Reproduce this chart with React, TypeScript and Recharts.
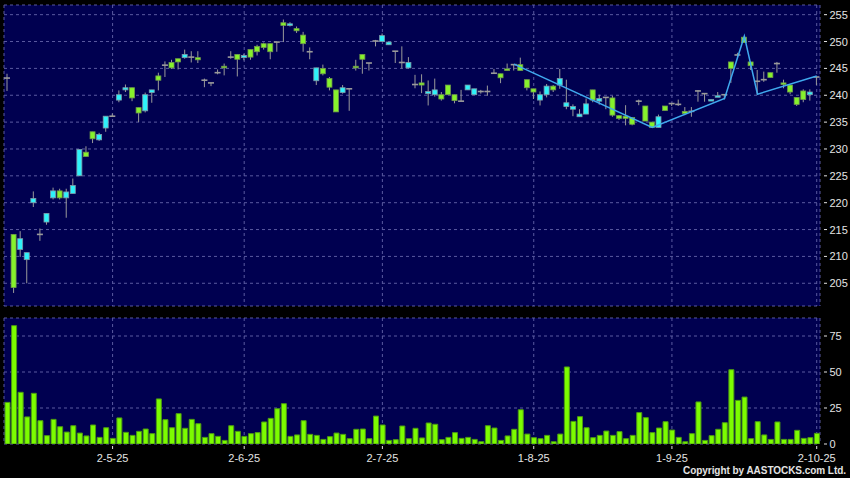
import React from "react";
import { ComposedChart, Bar, Line, XAxis, YAxis, CartesianGrid } from "recharts";

// daily prices (index 0 = first session shown)
const opens = [
  243.2, 204.2, 213.3, 210.7, 220.8, 214.1, 218.0, 222.2, 220.9, 222.0,
  223.2, 229.9, 228.6, 231.9, 232.7, 236.1, 236.1, 240.1, 241.4, 239.5,
  236.7, 240.1, 241.0, 242.8, 245.6, 245.1, 246.2, 247.6, 247.1, 246.6,
  242.8, 242.3, 244.2, 245.1, 247.1, 246.7, 247.4, 247.1, 248.1, 248.9,
  248.1, 249.9, 253.0, 253.3, 252.0, 249.6, 248.1, 245.1, 244.0, 241.5,
  236.9, 241.4, 241.2, 245.1, 246.7, 246.0, 250.1, 251.1, 249.9, 248.2,
  246.1, 246.1, 242.0, 241.9, 240.7, 241.0, 239.3, 240.1, 239.0, 238.9,
  241.9, 241.2, 240.7, 240.7, 244.1, 243.25, 244.6, 245.7, 244.6, 241.4,
  240.6, 240.1, 241.7, 241.0, 243.1, 238.6, 237.9, 236.5, 238.4, 239.1,
  239.4, 239.6, 236.3, 235.7, 235.7, 234.6, 238.9, 235.2, 234.0, 236.0,
  237.15, 238.45, 238.3, 236.6, 237.0, 240.8, 240.3, 239.2, 239.9, 240.1,
  245.0, 247.5, 249.8, 245.5, 242.6, 242.9, 243.3, 245.9, 242.0, 240.6,
  238.3, 239.2, 240.6, 243.4,
];
const highs = [
  244.0, 214.1, 214.7, 210.7, 222.1, 215.2, 218.0, 222.8, 222.6, 222.6,
  224.5, 229.9, 230.5, 233.2, 233.0, 236.1, 236.6, 240.9, 242.0, 241.4,
  237.7, 240.5, 241.0, 244.2, 246.3, 246.6, 246.8, 248.5, 248.2, 248.2,
  243.1, 242.3, 244.8, 245.9, 248.2, 247.6, 247.7, 248.5, 249.4, 249.8,
  249.6, 249.9, 254.1, 253.6, 252.8, 251.8, 248.9, 245.1, 245.7, 243.4,
  241.0, 241.9, 241.2, 246.6, 247.6, 246.0, 250.3, 251.5, 249.9, 248.2,
  249.1, 247.1, 243.8, 243.9, 242.75, 243.1, 240.6, 241.9, 240.1, 241.0,
  241.9, 241.2, 241.0, 241.8, 244.9, 244.0, 245.9, 245.7, 247.0, 242.9,
  241.2, 240.7, 242.1, 241.9, 244.9, 242.9, 238.3, 237.4, 239.4, 241.0,
  240.1, 239.6, 239.9, 236.3, 238.15, 235.85, 239.2, 238.0, 235.0, 236.4,
  238.0, 238.6, 239.2, 237.8, 237.8, 240.9, 240.3, 239.2, 240.6, 240.1,
  246.2, 247.9, 250.9, 246.2, 244.7, 244.4, 244.2, 246.2, 242.9, 241.9,
  239.6, 241.1, 241.1, 243.4,
];
const lows = [
  240.8, 203.2, 209.9, 205.0, 219.2, 212.9, 215.9, 220.6, 220.6, 217.2,
  221.7, 225.0, 228.6, 231.1, 231.5, 233.2, 236.1, 238.7, 240.6, 238.9,
  235.0, 236.8, 238.6, 240.9, 243.4, 244.9, 244.8, 246.8, 246.1, 246.0,
  241.5, 241.7, 243.9, 243.7, 246.8, 243.5, 246.5, 246.6, 247.4, 248.5,
  246.7, 248.1, 249.9, 252.8, 251.6, 248.1, 246.7, 241.9, 243.7, 240.9,
  236.9, 240.3, 237.1, 244.6, 244.0, 244.6, 249.1, 250.0, 249.4, 246.0,
  245.0, 245.0, 241.3, 240.4, 238.1, 239.75, 239.0, 240.1, 238.5, 238.9,
  241.0, 240.1, 240.3, 239.9, 244.0, 242.25, 244.6, 244.6, 244.6, 240.9,
  239.3, 238.1, 239.6, 240.6, 241.2, 237.4, 236.1, 236.0, 236.5, 238.7,
  238.25, 237.4, 236.0, 235.4, 234.4, 234.4, 238.15, 235.2, 234.0, 234.0,
  237.15, 238.0, 238.0, 236.3, 236.0, 238.8, 238.8, 239.0, 239.7, 239.2,
  242.3, 247.0, 249.8, 244.7, 240.1, 242.5, 243.3, 244.2, 241.3, 240.2,
  238.0, 238.7, 239.0, 241.9,
];
const closes = [
  243.2, 214.1, 211.3, 209.4, 220.0, 214.1, 216.4, 220.9, 222.2, 220.9,
  221.7, 225.0, 229.4, 233.2, 231.7, 233.9, 236.1, 239.1, 241.0, 241.4,
  237.7, 237.1, 240.5, 243.6, 245.6, 246.1, 246.8, 247.0, 247.1, 247.0,
  242.8, 242.3, 244.2, 245.4, 247.1, 247.6, 247.0, 248.5, 249.1, 249.6,
  249.6, 249.9, 253.5, 253.0, 252.4, 251.2, 248.1, 242.7, 245.0, 243.1,
  241.0, 240.5, 241.2, 245.4, 247.6, 246.0, 250.1, 250.0, 249.4, 248.2,
  246.1, 245.1, 242.0, 242.3, 240.3, 240.1, 240.1, 241.9, 240.1, 238.9,
  241.0, 240.1, 240.7, 240.7, 244.1, 244.0, 244.9, 245.7, 245.7, 242.9,
  241.2, 239.1, 240.1, 241.7, 241.9, 237.9, 237.4, 236.0, 236.5, 241.0,
  238.9, 239.6, 239.5, 236.2, 236.1, 235.85, 238.9, 238.0, 235.0, 234.0,
  238.0, 238.45, 238.3, 237.0, 237.0, 240.8, 240.3, 239.0, 239.7, 240.1,
  246.2, 247.5, 250.8, 246.2, 242.6, 242.9, 244.2, 245.9, 242.3, 241.9,
  239.6, 240.8, 240.1, 243.4,
];
const volumes = [
  28.9, 82.2, 35.9, 18.8, 35.2, 16.2, 5.8, 17.1, 12.0, 8.3,
  12.7, 7.6, 5.6, 13.2, 4.6, 11.3, 3.9, 18.1, 8.1, 6.0,
  8.8, 10.4, 7.2, 31.3, 16.9, 11.3, 21.1, 10.9, 17.1, 14.1,
  4.6, 7.2, 5.3, 2.5, 12.7, 8.8, 5.3, 7.2, 7.9, 15.3,
  17.8, 24.5, 28.0, 5.3, 6.3, 16.2, 6.7, 6.0, 3.2, 5.1,
  7.6, 6.7, 3.7, 10.2, 10.4, 3.7, 19.4, 13.2, 2.5, 3.0,
  12.5, 3.7, 10.9, 4.2, 14.6, 13.7, 3.0, 4.6, 7.9, 3.9,
  4.6, 3.2, 1.6, 12.7, 11.1, 2.5, 5.6, 10.2, 23.8, 6.9,
  4.4, 3.7, 6.0, 1.6, 6.9, 53.5, 15.7, 19.0, 11.3, 4.4,
  6.0, 9.0, 6.0, 8.6, 3.7, 6.0, 21.8, 18.3, 7.9, 11.1,
  15.5, 9.7, 4.6, 1.6, 7.2, 29.2, 2.5, 5.8, 10.2, 14.8,
  51.6, 30.3, 32.6, 3.7, 15.5, 6.3, 3.2, 15.3, 3.2, 3.2,
  9.5, 3.9, 4.4, 7.4,
];

// zigzag overlay (session index, price)
const zigIdx = [77, 98, 109, 112, 114, 123];
const zigVal = [245.8, 234.0, 239.4, 251.0, 240.2, 243.6];

const tickIdx = [16, 36, 57, 80, 101, 123];
const tickLabels = ["2-5-25", "2-6-25", "2-7-25", "1-8-25", "1-9-25", "2-10-25"];
const priceTicks = [205, 210, 215, 220, 225, 230, 235, 240, 245, 250, 255];
const volTicks = [0, 25, 50, 75];

const NAVY = "#000050";
const GRID = "#5a5aa0";
const GREEN = "#86f22c";
const CYAN = "#2ef2fa";
const WICK = "#9a9a9a";
const LABEL = "#e4e4e4";
const FONT = "'Liberation Sans', Arial, sans-serif";

const rows = opens.map((o, i) => {
  const z = zigIdx.indexOf(i);
  return {
    i,
    o,
    h: highs[i],
    l: lows[i],
    c: closes[i],
    range: [lows[i], highs[i]],
    vol: volumes[i],
    zig: z >= 0 ? zigVal[z] : null,
  };
});

const Candle = (p: any) => {
  const { x, y, width, height, payload } = p;
  if (x == null || y == null) return null;
  const { o, h, l, c } = payload;
  const top = Math.min(y, y + height);
  const bot = Math.max(y, y + height);
  const span = h - l || 1;
  const py = (v: number) => top + ((h - v) / span) * (bot - top);
  const cx = x + width / 2;
  const yo = py(o);
  const yc = py(c);
  if (o === c) {
    return (
      <g>
        <line x1={cx} x2={cx} y1={top} y2={bot} stroke={WICK} strokeWidth={1} />
        <rect x={cx - 3} y={yo - 0.8} width={6} height={1.6} fill={WICK} />
      </g>
    );
  }
  const up = c > o;
  const bt = Math.min(yo, yc);
  const bh = Math.max(Math.abs(yo - yc), 1.5);
  return (
    <g>
      <line x1={cx} x2={cx} y1={top} y2={bot} stroke={WICK} strokeWidth={1} />
      <rect
        x={cx - 2.5}
        y={bt}
        width={5}
        height={bh}
        fill={up ? GREEN : CYAN}
        stroke={up ? "#6f9a4a" : "#7d9aa8"}
        strokeWidth={0.8}
      />
    </g>
  );
};

const RightTick = (p: any) => {
  const { x, y, payload } = p;
  return (
    <g>
      <line x1={x + 4} x2={x + 7} y1={y} y2={y} stroke={LABEL} strokeWidth={1} />
      <text x={x + 9.5} y={y + 4} fill={LABEL} fontSize={11} fontFamily={FONT}>
        {payload.value}
      </text>
    </g>
  );
};

const DateTick = (p: any) => {
  const { x, y, payload } = p;
  const k = tickIdx.indexOf(payload.value);
  return (
    <g>
      <line x1={x} x2={x} y1={y + 2} y2={y + 5} stroke={LABEL} strokeWidth={1} />
      <text x={x} y={y + 17.5} fill={LABEL} fontSize={11} fontFamily={FONT} textAnchor="middle">
        {k >= 0 ? tickLabels[k] : ""}
      </text>
    </g>
  );
};

export default function App() {
  return (
    <div
      style={{
        position: "absolute",
        left: 0,
        top: 0,
        width: 850,
        height: 478,
        background: "#000",
        overflow: "hidden",
      }}
    >
      <div style={{ position: "absolute", left: 0, top: 0 }}>
        <ComposedChart
          width={850}
          height={310}
          data={rows}
          margin={{ top: 5, right: 0, bottom: 4, left: 4 }}
          barCategoryGap={0}
        >
          <CartesianGrid fill={NAVY} fillOpacity={1} stroke={GRID} strokeDasharray="3 3" />
          <XAxis dataKey="i" hide ticks={tickIdx} interval={0} />
          <YAxis
            orientation="right"
            width={30}
            type="number"
            domain={[200.77, 256.8]}
            ticks={priceTicks}
            interval={0}
            axisLine={false}
            tickLine={false}
            tickSize={0}
            tickMargin={0}
            tick={<RightTick />}
            allowDataOverflow
          />
          <Bar dataKey="range" barSize={6} shape={<Candle />} isAnimationActive={false} />
          <Line
            dataKey="zig"
            stroke="#3fa9ee"
            strokeWidth={1.5}
            dot={false}
            connectNulls
            isAnimationActive={false}
          />
        </ComposedChart>
      </div>
      <div style={{ position: "absolute", left: 0, top: 310 }}>
        <ComposedChart
          width={850}
          height={168}
          data={rows}
          margin={{ top: 8, right: 0, bottom: 0, left: 4 }}
          barCategoryGap={0}
        >
          <CartesianGrid fill={NAVY} fillOpacity={1} stroke={GRID} strokeDasharray="3 3" />
          <XAxis
            dataKey="i"
            height={34}
            ticks={tickIdx}
            interval={0}
            axisLine={false}
            tickLine={false}
            tickSize={0}
            tickMargin={0}
            tick={<DateTick />}
          />
          <YAxis
            orientation="right"
            width={30}
            type="number"
            domain={[0, 87.5]}
            ticks={volTicks}
            interval={0}
            axisLine={false}
            tickLine={false}
            tickSize={0}
            tickMargin={0}
            tick={<RightTick />}
            allowDataOverflow
          />
          <Bar
            dataKey="vol"
            barSize={5}
            fill="#7cfc00"
            stroke="#4c9a12"
            strokeWidth={1}
            isAnimationActive={false}
          />
        </ComposedChart>
      </div>
      <svg
        width={850}
        height={478}
        style={{ position: "absolute", left: 0, top: 0, pointerEvents: "none" }}
      >
        <text
          x={683}
          y={474}
          fill={LABEL}
          fontSize={10}
          fontWeight="bold"
          fontFamily={FONT}
          textLength={163}
          lengthAdjust="spacing"
        >
          Copyright by AASTOCKS.com Ltd.
        </text>
      </svg>
    </div>
  );
}
